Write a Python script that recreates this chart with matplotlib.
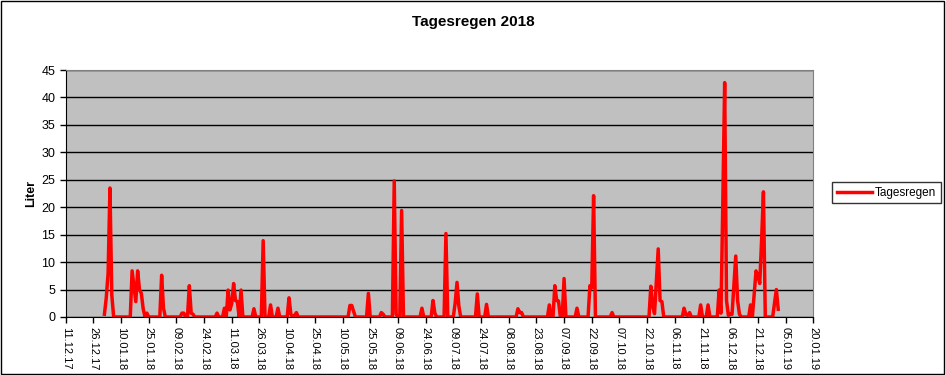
import numpy as np
import pandas as pd
import matplotlib
matplotlib.use("Agg")
from matplotlib import pyplot as plt
import matplotlib.dates as mdates
from matplotlib.patches import Rectangle

plt.rcParams['font.family'] = ['Liberation Sans', 'DejaVu Sans']

# daily rain 2018 (day index from 01.01.18), days not listed are 0
rain_days = [0, 1, 2, 3, 4, 15, 16, 17, 18, 19, 20, 21, 23, 31, 32, 42, 43, 46, 47, 48,
             61, 65, 67, 68, 69, 70, 71, 72, 74, 81, 86, 90, 94, 100, 101, 103, 104,
             133, 134, 135, 143, 150, 151, 157, 158, 161, 172, 178, 179, 185,
             190, 191, 192, 202, 207, 224, 225, 226, 241, 244, 245, 246, 249, 256,
             263, 264, 265, 275, 296, 297, 298, 299, 300, 301, 302, 314, 315, 316, 317,
             323, 327, 333, 334, 335, 336, 337, 338, 339, 340, 341, 342, 343, 344,
             350, 352, 353, 354, 355, 356, 357, 363, 364, 365]
rain_liter = [0.5, 3.5, 8.0, 23.5, 4.0, 8.4, 5.6, 2.8, 8.4, 5.0, 4.3, 1.5, 0.7, 7.6, 1.6, 0.7, 0.7, 5.7, 0.7, 0.5,
              0.7, 1.6, 4.9, 1.3, 2.5, 6.1, 3.0, 2.8, 4.9, 1.5, 13.9, 2.2, 1.6, 3.5, 0.5, 0.3, 0.8,
              2.1, 2.1, 1.0, 4.3, 0.8, 0.5, 24.8, 0.5, 19.4, 1.6, 3.0, 0.7, 15.2,
              2.5, 6.3, 2.0, 4.2, 2.3, 1.5, 0.8, 0.8, 2.2, 5.7, 3.0, 2.9, 7.0, 1.6,
              5.7, 5.3, 22.1, 0.8, 5.6, 2.0, 0.6, 6.5, 12.4, 3.0, 2.8, 1.6, 0.4, 0.3, 0.8,
              2.2, 2.2, 4.9, 0.7, 21.0, 42.7, 3.0, 0.3, 0.5, 0.5, 5.8, 11.1, 3.0, 0.5,
              2.2, 4.2, 8.4, 7.5, 6.1, 14.0, 22.8, 2.5, 5.0, 1.4]

dates = pd.date_range("2018-01-01", "2019-01-01", freq="D")
values = np.zeros(len(dates))
values[rain_days] = rain_liter

tick_dates = pd.date_range("2017-12-11", "2019-01-20", freq="15D")

fig = plt.figure(figsize=(9.46, 3.75), dpi=100)
fig.patch.set_facecolor("white")
fig.add_artist(Rectangle((0.001, 0.002), 0.997, 0.995, transform=fig.transFigure,
                         fill=False, edgecolor="black", linewidth=1))

ax = fig.add_axes([0.0694, 0.1547, 0.7903, 0.6586])
ax.set_facecolor("#c0c0c0")
ax.plot(dates, values, color="#ff0000", linewidth=2.5, label="Tagesregen")

ax.set_xlim(tick_dates[0], tick_dates[-1])
ax.set_ylim(0, 45)
ax.set_yticks(np.arange(0, 50, 5))
ax.yaxis.grid(True, color="black", linewidth=1)
ax.set_axisbelow(True)
ax.set_xticks(tick_dates)
ax.xaxis.set_major_formatter(mdates.DateFormatter("%d.%m.%y"))
plt.setp(ax.get_xticklabels(), rotation=270, fontsize=8, ha="center", va="top")
plt.setp(ax.get_yticklabels(), fontsize=9)
ax.tick_params(axis="both", direction="out", length=4, width=1, color="black")

for side in ["top", "right"]:
    ax.spines[side].set_color("#808080")
for side in ["left", "bottom"]:
    ax.spines[side].set_color("black")

ax.set_ylabel("Liter", fontsize=9, fontweight="bold", labelpad=3)
fig.text(0.5, 1 - 22 / 375, "Tagesregen 2018", ha="center", va="center",
         fontsize=11, fontweight="bold")

leg = fig.legend(loc="center", bbox_to_anchor=(0.937, 0.486), fontsize=8.5,
                 frameon=True, fancybox=False, edgecolor="black", handlelength=3,
                 handletextpad=0.2, borderpad=0.4)
leg.get_frame().set_linewidth(1)

plt.savefig("out.png", dpi=100)
